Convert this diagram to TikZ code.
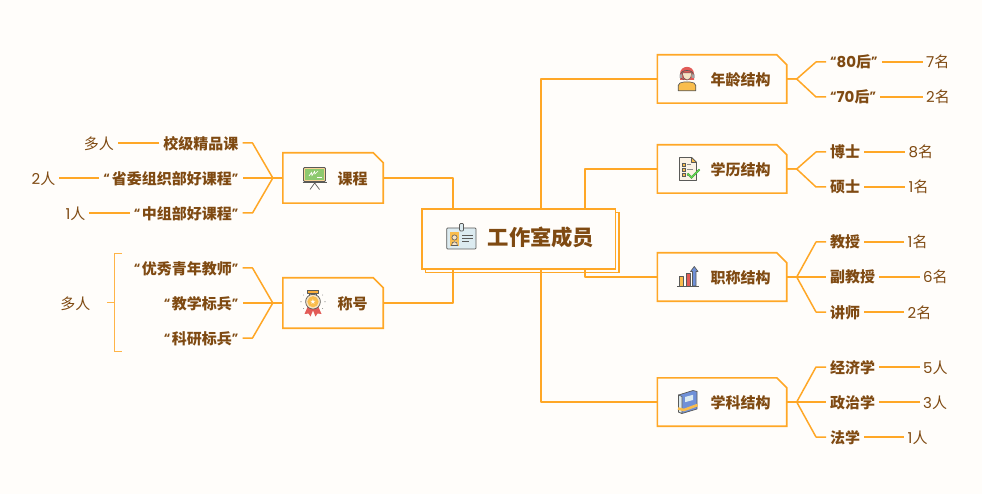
\documentclass[tikz,border=0pt]{standalone}
\usepackage{fontspec}
\setmainfont{Poppins}
\newfontfamily\cjk{Noto Sans CJK SC}
\usetikzlibrary{calc}
\definecolor{paper}{HTML}{FFFDFA}
\definecolor{org}{HTML}{FFA726}
\definecolor{ink}{HTML}{7F4A12}
\definecolor{dark}{HTML}{5A5A58}
\definecolor{skin}{HTML}{F6E3C5}
\definecolor{gold}{HTML}{F9BD4D}
\definecolor{redd}{HTML}{E25B57}
\definecolor{blu}{HTML}{6F90D8}
\definecolor{grn}{HTML}{8DC96F}
\definecolor{pale}{HTML}{DCEBF0}
\tikzset{
  conn/.style={draw=org,line width=1.5pt,line join=round},
  thin bracket/.style={draw=org!85,line width=1pt},
  topicbox/.style={minimum width=129pt,minimum height=48pt,inner sep=0pt},
  cutline/.style={draw=org,line width=1.6pt,fill=paper,line join=miter},
  base text/.style={text=ink,inner ysep=0pt,text height=13pt,text depth=1pt},
  left text/.style={text=ink,inner ysep=0pt,text height=14pt,text depth=1pt},
  topic/.style={base text,font=\bfseries\fontsize{15}{15}\selectfont\cjk,anchor=west,inner sep=0pt},
  subr/.style={base text,font=\bfseries\fontsize{15}{15}\selectfont,anchor=west,inner xsep=4pt},
  subl/.style={left text,font=\bfseries\fontsize{15}{15}\selectfont,anchor=east,inner xsep=4pt},
  numr/.style={base text,font=\fontsize{15}{15}\selectfont,anchor=west,inner xsep=3.5pt},
  numl/.style={left text,font=\fontsize{15}{15}\selectfont,anchor=east,inner xsep=3.5pt},
  ic/.style={draw=dark,line width=.7pt,line join=round},
}
\newcommand{\cutbox}[1]{\draw[cutline] (#1.north west) -- ($(#1.north east)+(-10,0)$) -- ($(#1.north east)+(0,10)$) -- (#1.south east) -- (#1.south west) -- cycle;}
\newcommand{\forkr}[2]{\draw[conn] (#1.east) -- ++(10,0) -- ($(#2.west)+(-10,0)$) -- (#2.west);}
\newcommand{\forkl}[2]{\draw[conn] (#1.west) -- ++(-10,0) -- ($(#2.east)+(10,0)$) -- (#2.east);}
\newcommand{\cn}[1]{{\cjk #1}}
\newcommand{\oqt}{\raisebox{2pt}{\fontsize{12}{12}\selectfont “}}
\newcommand{\cqt}{\raisebox{2pt}{\fontsize{12}{12}\selectfont ”}}
\begin{document}
\begin{tikzpicture}[x=1pt,y=-1pt]
\useasboundingbox (0,0) rectangle (982,494);
\fill[paper] (0,0) rectangle (982,494);

% central topic
\node[draw=org,line width=1.6pt,fill=paper,minimum width=193.5pt,minimum height=60pt,inner sep=0] (cs) at (522.3,242.5) {};
\node[draw=org,line width=1.8pt,fill=paper,minimum width=193.5pt,minimum height=60pt,inner sep=0] (c) at (518.7,239) {};
\node[text=ink,font=\bfseries\fontsize{21.3}{21.3}\selectfont\cjk,anchor=west,inner sep=0pt,text height=17pt,text depth=1pt] (ct) at (487.5,238) {工作室成员};

% main topic boxes
\node[topicbox] (age) at (722,79) {};
\node[topicbox] (edu) at (722,169) {};
\node[topicbox] (tit) at (722,277) {};
\node[topicbox] (dis) at (722,402) {};
\node[topicbox,minimum width=100pt,minimum height=50pt] (cou) at (333,178) {};
\node[topicbox,minimum width=100pt,minimum height=50pt] (hon) at (333,303) {};
\foreach \b in {age,edu,tit,dis,cou,hon} {\cutbox{\b}}
\node[topic] (agel) at (710.5,79.5) {年龄结构};
\node[topic] (edul) at (710.5,169.5) {学历结构};
\node[topic] (titl) at (710.5,277.5) {职称结构};
\node[topic] (disl) at (710.5,402.5) {学科结构};
\node[topic] (coul) at (337.5,178.5) {课程};
\node[topic] (honl) at (337.5,303.5) {称号};

% trunks
\draw[conn] ($(c.north west)+(120.05,0)$) |- (age.west);
\draw[conn] ($(c.north west)+(164.05,0)$) |- (edu.west);
\draw[conn] ($(c.south west)+(164.05,0)$) |- (tit.west);
\draw[conn] ($(c.south west)+(120.05,0)$) |- (dis.west);
\draw[conn] ($(c.north west)+(32.05,0)$) |- (cou.east);
\draw[conn] ($(c.south west)+(32.05,0)$) |- (hon.east);

% right subtopics
\node[subr] (a1) at (826,62) {\oqt 80\cn{后}\cqt};
\node[subr] (a2) at (826,97) {\oqt 70\cn{后}\cqt};
\node[subr] (e1) at (826,152) {\cjk 博士};
\node[subr] (e2) at (826,187) {\cjk 硕士};
\node[subr] (t1) at (826,242) {\cjk 教授};
\node[subr] (t2) at (826,277) {\cjk 副教授};
\node[subr] (t3) at (826,312) {\cjk 讲师};
\node[subr] (d1) at (826,367) {\cjk 经济学};
\node[subr] (d2) at (826,402) {\cjk 政治学};
\node[subr] (d3) at (826,437) {\cjk 法学};
\foreach \p/\k in {age/a1,age/a2,edu/e1,edu/e2,tit/t1,tit/t2,tit/t3,dis/d1,dis/d2,dis/d3} {\forkr{\p}{\k}}

\node[numr] (na1) at (922.5,62) {7\cn{名}};
\node[numr] (na2) at (922.5,97) {2\cn{名}};
\node[numr] (ne1) at (905,152) {8\cn{名}};
\node[numr] (ne2) at (905,187) {1\cn{名}};
\node[numr] (nt1) at (904,242) {1\cn{名}};
\node[numr] (nt2) at (919.5,277) {6\cn{名}};
\node[numr] (nt3) at (904,312) {2\cn{名}};
\node[numr] (nd1) at (919.5,367) {5\cn{人}};
\node[numr] (nd2) at (919.5,402) {3\cn{人}};
\node[numr] (nd3) at (904,437) {1\cn{人}};
\foreach \k/\n in {a1/na1,a2/na2,e1/ne1,e2/ne2,t1/nt1,t2/nt2,t3/nt3,d1/nd1,d2/nd2,d3/nd3} {\draw[conn] (\k.east) -- (\n.west);}

% left subtopics
\node[subl] (c1) at (242.5,143) {\cjk 校级精品课};
\node[subl] (c2) at (242.5,178) {\oqt\kern2pt\cn{省委组织部好课程}\cqt};
\node[subl] (c3) at (242.5,213) {\oqt\kern1.5pt\cn{中组部好课程}\cqt};
\node[subl] (h1) at (242.5,268) {\oqt\kern1.5pt\cn{优秀青年教师}\cqt};
\node[subl] (h2) at (242.5,303) {\oqt\kern1.5pt\cn{教学标兵}\cqt};
\node[subl] (h3) at (242.5,338) {\oqt\kern1.5pt\cn{科研标兵}\cqt};
\foreach \p/\k in {cou/c1,cou/c2,cou/c3,hon/h1,hon/h2,hon/h3} {\forkl{\p}{\k}}

\node[numl] (nc1) at (117.5,143) {\cn{多人}};
\node[numl] (nc2) at (59,178) {2\cn{人}};
\node[numl] (nc3) at (89,213) {1\cn{人}};
\foreach \k/\n in {c1/nc1,c2/nc2,c3/nc3} {\draw[conn] (\k.west) -- (\n.east);}

\coordinate (bt) at (122,253.5);
\coordinate (bb) at (122,351.5);
\node[numl] (nh) at (94,303) {\cn{多人}};
\draw[thin bracket] (bt) -- ++(-7.5,0) -- ($(bb)+(-7.5,0)$) -- (bb);
\draw[thin bracket] ($(bt)!.5!(bb)+(-7.5,0)$) -- ++(-7.5,0);

% icon: badge
\draw[ic,fill=pale,rounded corners=1pt] (446.7,228) rectangle (476,249);
\draw[ic,fill=pale,rounded corners=1pt] (459.5,223.5) rectangle (463.5,231);
\fill[gold] (450,232) rectangle (459,246);
\draw[dark,line width=.6pt,fill=skin] (451.5,245.5) .. controls (451.5,240.5) and (457.5,240.5) .. (457.5,245.5) -- cycle;
\draw[dark,line width=.6pt,fill=skin] (454.5,237.5) circle (2.6);
\draw[dark,line width=.8pt] (462,235)--(473,235) (462,238)--(473,238) (462,241)--(469,241);

% icon: person
\fill[redd] (680,74) .. controls (680,64.5) and (694,64.5) .. (694,74) -- (694,80) -- (680,80) -- cycle;
\draw[dark,line width=.5pt,fill=skin] (682.5,73) .. controls (682.5,82.5) and (691.5,82.5) .. (691.5,73) -- cycle;
\draw[ic,fill=gold] (678.2,90.8) -- (678.2,85.5) .. controls (678.2,83) and (681,82.5) .. (684,82) -- (690,82) .. controls (693,82.5) and (695.8,83) .. (695.8,85.5) -- (695.8,90.8) -- cycle;
\draw[dark,line width=.7pt] (680.5,75) .. controls (680.5,69) and (693.5,69) .. (693.5,75);
\fill[dark!55] (679.5,74.5) rectangle (682,78) (692,74.5) rectangle (694.5,78);
\draw[dark,line width=.5pt] (681,78) -- (684,80);

% icon: document
\draw[ic,fill=skin!45] (679.5,157.5) -- (691.5,157.5) -- (696.5,162.5) -- (696.5,180.5) -- (679.5,180.5) -- cycle;
\draw[ic,fill=gold] (691.5,157.5) -- (691.5,162.5) -- (696.5,162.5) -- cycle;
\foreach \y in {163,168,173.5} {\draw[dark,line width=.5pt,fill=gold] (682,\y) rectangle (685,\y+2.8);}
\draw[dark!70,line width=.6pt] (687,164.5)--(691,164.5) (687,169.5)--(693,169.5) (687,175)--(690,175);
\draw[draw=dark!70!green,line width=2pt] (687.5,173.5) -- (691.5,177.5) -- (699.5,169.5);
\draw[draw=grn!70!green,line width=1.1pt] (687.5,173.5) -- (691.5,177.5) -- (699.5,169.5);

% icon: bars
\draw[ic,fill=gold] (679.3,276.7) rectangle (683,286);
\draw[ic,fill=redd] (686.5,273) rectangle (690,286);
\draw[ic,fill=blu] (692.5,271.5) -- (690.5,271.5) -- (694.3,266.5) -- (698,271.5) -- (696,271.5) -- (696,286) -- (692.5,286) -- cycle;
\draw[dark,line width=.9pt] (677,286.7) -- (698.7,286.7);

% icon: book
\draw[ic,fill=blu] (678.5,395) -- (693,390.5) -- (697,391.5) -- (697,409) -- (682,413.5) -- (678.5,412) -- cycle;
\draw[ic,fill=pale] (678.5,395) -- (682,396.5) -- (682,413.5) -- (678.5,412) -- cycle;
\fill[pale] (685,397) -- (693,394.8) -- (693,400) -- (685,402.2) -- cycle;
\draw[draw=gold,line width=2.6pt] (678,408.5) -- (684,410) -- (697.5,405);

% icon: board
\draw[dark,line width=.8pt,fill=skin!60!gold,rounded corners=1pt] (303.5,167.5) rectangle (325.5,181.5);
\fill[grn] (305.3,169.3) rectangle (323.7,180);
\draw[dark,line width=1.2pt] (302.7,182.2) -- (326.7,182.2);
\draw[dark,line width=.7pt] (310,189.5) -- (314.7,183) -- (319.5,189.5);
\draw[paper,line width=.7pt] (309,176) -- (311.5,172.5) -- (312,175.5) -- (314.5,171.5) -- (315,174) -- (318,171);
\fill[paper] (316.5,177) rectangle (322,178.2);

% icon: medal
\fill[redd] (308,306) -- (304.5,314) -- (308.5,313.5) -- (310.5,316.5) -- (314,308) -- cycle;
\fill[redd] (318,306) -- (321.5,314) -- (317.5,313.5) -- (315.5,316.5) -- (312,308) -- cycle;
\draw[ic,fill=gold!75!orange] (307.5,290) rectangle (318.5,293);
\draw[ic,fill=skin] (309.5,293) rectangle (316.5,295.5);
\draw[ic,fill=skin] (313,301.7) circle (7.4);
\fill[gold] (313,301.7) circle (5.6);
\node[inner sep=0pt,text=paper,font=\fontsize{7}{7}\selectfont] (star) at (313,301.7) {\fontspec{DejaVu Sans}★};
\fill[dark!70] (301,301.7) circle (.6) (325,301.7) circle (.6) (303.5,295) circle (.5) (322.5,295) circle (.5) (303.5,308.5) circle (.5) (322.5,308.5) circle (.5);
\end{tikzpicture}
\end{document}
